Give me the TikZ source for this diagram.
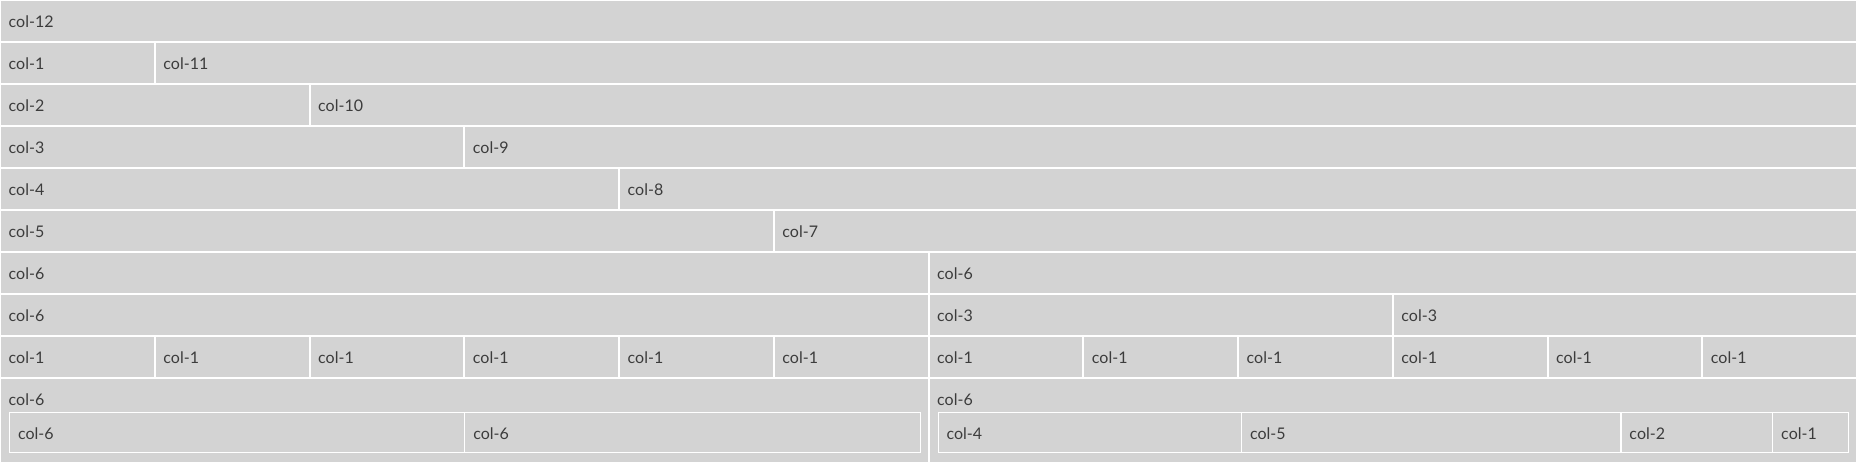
\documentclass[tikz,border=0pt]{standalone}
\usepackage{fontspec}
\setmainfont{Lato}
\usepackage{tikz}

\definecolor{cellgray}{RGB}{211,211,211}
\definecolor{txtgray}{RGB}{60,60,60}

\tikzset{
  cell/.style={fill=cellgray, anchor=north west, minimum height=40pt,
    inner ysep=0pt, inner xsep=7.5pt, text height=13pt, text depth=0pt,
    align=left, text=txtgray, font=\fontsize{16pt}{19pt}\selectfont,
    text width=#1*154.75pt-17pt},
  nest/.style={cell=1, draw=white, line width=1.2pt, inner xsep=8.5pt,
    text width=#1*75.875pt-17pt},
  lbl/.style={anchor=base west, inner sep=0pt, text=txtgray,
    font=\fontsize{16pt}{19pt}\selectfont}
}

\begin{document}
\begin{tikzpicture}[x=1pt,y=-1pt]
\fill[white] (0,0) rectangle (1857,462);
\useasboundingbox (0,0) rectangle (1857,462);
% row 1
\node[cell=12] (r1a) at (1,1) {col-12};
% row 2
\node[cell=1] (r2a) at (1,43) {col-1};
\node[cell=11] (r2b) at (155.75,43) {col-11};
% row 3
\node[cell=2] (r3a) at (1,85) {col-2};
\node[cell=10] (r3b) at (310.5,85) {col-10};
% row 4
\node[cell=3] (r4a) at (1,127) {col-3};
\node[cell=9] (r4b) at (465.25,127) {col-9};
% row 5
\node[cell=4] (r5a) at (1,169) {col-4};
\node[cell=8] (r5b) at (620,169) {col-8};
% row 6
\node[cell=5] (r6a) at (1,211) {col-5};
\node[cell=7] (r6b) at (774.75,211) {col-7};
% row 7
\node[cell=6] (r7a) at (1,253) {col-6};
\node[cell=6] (r7b) at (929.5,253) {col-6};
% row 8
\node[cell=6] (r8a) at (1,295) {col-6};
\node[cell=3] (r8b) at (929.5,295) {col-3};
\node[cell=3] (r8c) at (1393.75,295) {col-3};
% row 9
\node[cell=1] (r9a) at (1,337) {col-1};
\node[cell=1] (r9b) at (155.75,337) {col-1};
\node[cell=1] (r9c) at (310.5,337) {col-1};
\node[cell=1] (r9d) at (465.25,337) {col-1};
\node[cell=1] (r9e) at (620,337) {col-1};
\node[cell=1] (r9f) at (774.75,337) {col-1};
\node[cell=1] (r9g) at (929.5,337) {col-1};
\node[cell=1] (r9h) at (1084.25,337) {col-1};
\node[cell=1] (r9i) at (1239,337) {col-1};
\node[cell=1] (r9j) at (1393.75,337) {col-1};
\node[cell=1] (r9k) at (1548.5,337) {col-1};
\node[cell=1] (r9l) at (1703.25,337) {col-1};
% row 10, nested
\node[cell=6, minimum height=83pt] (r10a) at (1,379) {};
\node[cell=6, minimum height=83pt] (r10b) at (929.5,379) {};
\node[lbl] (r10alabel) at ([xshift=7.5pt,yshift=-26.5pt]r10a.north west) {col-6};
\node[lbl] (r10blabel) at ([xshift=7.5pt,yshift=-26.5pt]r10b.north west) {col-6};
\node[nest=6] (n1) at (9,412) {col-6};
\node[nest=6] (n2) at (464.25,412) {col-6};
\node[nest=4] (n3) at (937.5,412) {col-4};
\node[nest=5] (n4) at (1241,412) {col-5};
\node[nest=2] (n5) at (1620.375,412) {col-2};
\node[nest=1] (n6) at (1772.125,412) {col-1};
\end{tikzpicture}
\end{document}
